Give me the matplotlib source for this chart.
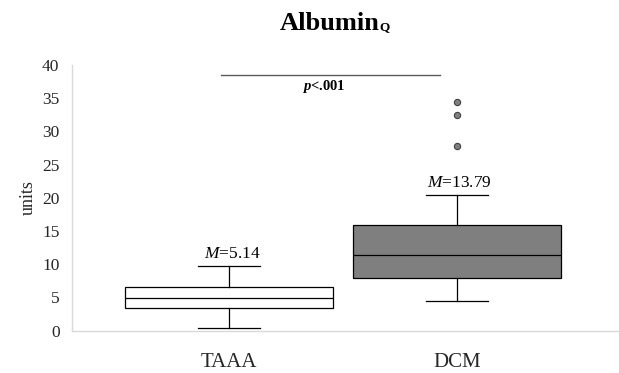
import matplotlib
matplotlib.use('Agg')
import matplotlib.pyplot as plt

# values
groups = ['TAAA', 'DCM']
q1 = [3.46, 7.98]
medians = [4.92, 11.36]
q3 = [6.63, 15.92]
whis_lo = [0.45, 4.47]
whis_hi = [9.79, 20.39]
outliers = [[], [27.86, 32.4, 34.4]]
means = [5.14, 13.79]
yticks = [0, 5, 10, 15, 20, 25, 30, 35, 40]
fills = ['white', '#7f7f7f']

plt.rcParams['font.family'] = ['Liberation Serif', 'DejaVu Serif']
plt.rcParams['mathtext.fontset'] = 'custom'
plt.rcParams['mathtext.rm'] = 'Liberation Serif'
plt.rcParams['mathtext.it'] = 'Liberation Serif:italic'
plt.rcParams['mathtext.bf'] = 'Liberation Serif:bold'
plt.rcParams['mathtext.bfit'] = 'Liberation Serif:bold:italic'

fig = plt.figure(figsize=(6.19, 3.73), dpi=100)
ax = fig.add_axes([72 / 619, 1 - 330.7 / 373, 546 / 619, 265.7 / 373])

stats = []
for i, g in enumerate(groups):
    stats.append({'label': g, 'q1': q1[i], 'med': medians[i], 'q3': q3[i],
                  'whislo': whis_lo[i], 'whishi': whis_hi[i],
                  'fliers': outliers[i], 'mean': means[i]})

pos = [1, 2]
bp = ax.bxp(stats, positions=pos, widths=0.91, capwidths=0.27,
            patch_artist=True, showmeans=False,
            boxprops=dict(edgecolor='black', linewidth=0.9),
            medianprops=dict(color='black', linewidth=0.9),
            whiskerprops=dict(color='black', linewidth=0.9),
            capprops=dict(color='black', linewidth=0.9),
            flierprops=dict(marker='o', markersize=4.5, markerfacecolor='#808080',
                            markeredgecolor='#404040', markeredgewidth=0.8))
for patch, c in zip(bp['boxes'], fills):
    patch.set_facecolor(c)

for p, hi, m in zip(pos, whis_hi, means):
    ax.annotate(r'$\mathit{M}$=' + f'{m:.2f}', xy=(p, hi), xytext=(2, 3),
                textcoords='offset points', ha='center', va='bottom', fontsize=12.5)

# significance bar
ax.plot([0.965, 1.925], [38.5, 38.5], color='#595959', linewidth=1.0)
ax.text(1.415, 36.7, r'$\mathbfit{p}$<.001', ha='center', va='center',
        fontsize=10.5, fontweight='bold')

ax.set_xlim(0.311, 2.706)
ax.set_ylim(0, 40)
ax.set_yticks(yticks)
ax.set_xticks(pos)
ax.set_xticklabels(groups, fontsize=15)
ax.tick_params(axis='y', length=0, pad=9, labelsize=12.5, colors='#262626')
ax.tick_params(axis='x', length=0, pad=16, labelsize=15, colors='#262626')
for s in ['top', 'right']:
    ax.spines[s].set_visible(False)
for s in ['left', 'bottom']:
    ax.spines[s].set_color('#d9d9d9')
    ax.spines[s].set_linewidth(1.0)
ax.set_ylabel('units', fontsize=13, labelpad=4, color='#262626')

# title with a smaller Q
t = fig.text(280 / 619, 1 - 30 / 373, 'Albumin', fontsize=19, fontweight='bold',
             ha='left', va='baseline')
fig.canvas.draw()
bb = t.get_window_extent().transformed(fig.transFigure.inverted())
fig.text(bb.x1, 1 - 30 / 373, 'Q', fontsize=9.5, fontweight='bold',
         ha='left', va='baseline')

fig.savefig('out.png', dpi=100)
